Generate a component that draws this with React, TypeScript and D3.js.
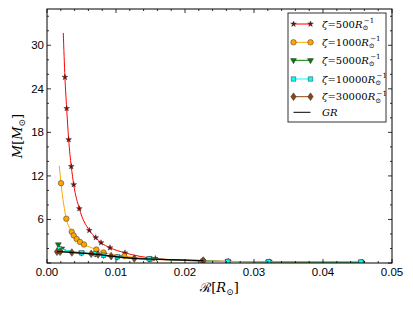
import * as d3 from 'd3';

// ζ = 500 (red stars); first entry is the curve top without a marker
const redR = [0.00236, 0.0026, 0.00285, 0.00314, 0.00352, 0.00387, 0.00468, 0.00613, 0.00706, 0.00783, 0.00913, 0.0113, 0.0157, 0.0226, 0.0263, 0.0323, 0.0457];
const redM = [31.7, 25.6, 21.3, 17.0, 13.3, 10.8, 7.5, 4.5, 3.5, 2.8, 2.1, 1.4, 0.62, 0.3, 0.22, 0.15, 0.08];

// ζ = 1000 (orange circles); first entry is the curve top
const orangeR = [0.00178, 0.00203, 0.0028, 0.00358, 0.00387, 0.0043, 0.00478, 0.00536, 0.00715, 0.0082, 0.0112, 0.015, 0.0226, 0.0262, 0.0322, 0.0456];
const orangeM = [13.4, 11.0, 6.1, 4.3, 3.8, 3.3, 2.9, 2.55, 1.86, 1.45, 0.95, 0.55, 0.3, 0.2, 0.15, 0.1];

// ζ = 5000 (green triangles)
const greenR = [0.00164, 0.00213, 0.005, 0.007, 0.0082, 0.0102, 0.0148, 0.0262, 0.0321, 0.0455];
const greenM = [2.55, 1.96, 1.4, 1.27, 1.08, 0.85, 0.58, 0.2, 0.17, 0.12];

// ζ = 10000 (cyan squares)
const cyanR = [0.00178, 0.005, 0.007, 0.0082, 0.0102, 0.0148, 0.0262, 0.0321, 0.0455];
const cyanM = [1.96, 1.4, 1.27, 1.08, 0.85, 0.58, 0.2, 0.17, 0.15];

// ζ = 30000 (brown diamonds)
const brownR = [0.00145, 0.0019, 0.0036, 0.0064, 0.0074, 0.0093, 0.01265, 0.02265];
const brownM = [1.55, 1.55, 1.45, 1.27, 1.17, 0.94, 0.62, 0.34];

// GR (black line)
const grR = [0.00145, 0.0019, 0.0036, 0.0064, 0.0074, 0.0093, 0.01265, 0.0148, 0.02265];
const grM = [1.55, 1.55, 1.45, 1.27, 1.17, 0.94, 0.62, 0.55, 0.32];

const xTicks = [0, 0.01, 0.02, 0.03, 0.04, 0.05];
const yTicks = [6, 12, 18, 24, 30];
const zetaLabels = ['500', '1000', '5000', '10000', '30000'];

const W = 413;
const H = 310;
const margin = { top: 9, right: 21, bottom: 47, left: 47 };

type Series = {
  xs: number[];
  ys: number[];
  color: string;
  fill: string;
  marker: string;
  skipFirst: boolean;
};

const series: Series[] = [
  { xs: redR, ys: redM, color: '#ff0000', fill: '#8b0000', marker: 'star', skipFirst: true },
  { xs: orangeR, ys: orangeM, color: '#ffa500', fill: '#ffa500', marker: 'circle', skipFirst: true },
  { xs: greenR, ys: greenM, color: '#008000', fill: '#008000', marker: 'tri', skipFirst: false },
  { xs: cyanR, ys: cyanM, color: '#00ffff', fill: '#00ffff', marker: 'square', skipFirst: false },
  { xs: brownR, ys: brownM, color: '#8b4513', fill: '#8b4513', marker: 'diamond', skipFirst: false },
];

const symbols: Record<string, d3.SymbolType> = {
  star: d3.symbolStar,
  circle: d3.symbolCircle,
  tri: d3.symbolTriangle,
  square: d3.symbolSquare,
  diamond: d3.symbolDiamond,
};
const sizes: Record<string, number> = { star: 10, circle: 24, tri: 15, square: 20, diamond: 17 };

const Marker = ({ kind, x, y, fill }: { kind: string; x: number; y: number; fill: string }) => {
  const path = d3.symbol(symbols[kind], sizes[kind])() as string;
  let t = `translate(${x},${y})`;
  if (kind === 'tri') t += ' rotate(180)';
  if (kind === 'diamond') t += ' scale(1.2,1)';
  return <path d={path} transform={t} fill={fill} stroke="#333" strokeWidth={0.5} />;
};

export default function App() {
  const iw = W - margin.left - margin.right;
  const ih = H - margin.top - margin.bottom;
  const x = d3.scaleLinear().domain([0, 0.05]).range([margin.left, margin.left + iw]);
  const y = d3.scaleLinear().domain([0, 35]).range([margin.top + ih, margin.top]);

  const line = d3
    .line<[number, number]>()
    .x((d) => x(d[0]))
    .y((d) => y(d[1]))
    .curve(d3.curveMonotoneX);

  const pts = (xs: number[], ys: number[]) => xs.map((v, i) => [v, ys[i]] as [number, number]);

  const xMinor = d3.range(0, 0.0501, 0.002);
  const yMinor = d3.range(0, 35.01, 2);
  const left = margin.left;
  const right = margin.left + iw;
  const top = margin.top;
  const bottom = margin.top + ih;

  const legX = 288;
  const legY = 13;
  const rowY = [24, 42.3, 60.3, 79, 96.7, 112.3];

  return (
    <svg width={W} height={H} style={{ position: 'absolute', left: 0, top: 0 }}>
      <rect width={W} height={H} fill="#fff" />
      <defs>
        <clipPath id="plot">
          <rect x={left} y={top} width={iw} height={ih} />
        </clipPath>
      </defs>

      <g clipPath="url(#plot)">
        {series.map((s, k) => (
          <g key={k}>
            <path d={line(pts(s.xs, s.ys)) as string} fill="none" stroke={s.color} strokeWidth={1} />
            {s.xs.map((v, i) =>
              s.skipFirst && i === 0 ? null : (
                <Marker key={i} kind={s.marker} x={x(v)} y={y(s.ys[i])} fill={s.fill} />
              )
            )}
          </g>
        ))}
        <path d={line(pts(grR, grM)) as string} fill="none" stroke="#000" strokeWidth={1.2} />
      </g>

      {/* ticks */}
      <g stroke="#000" strokeWidth={0.8}>
        {xMinor.map((v, i) => {
          const major = i % 5 === 0;
          const len = major ? 4 : 2;
          return (
            <g key={'xm' + i}>
              <line x1={x(v)} x2={x(v)} y1={bottom} y2={bottom - len} />
              <line x1={x(v)} x2={x(v)} y1={top} y2={top + len} />
            </g>
          );
        })}
        {yMinor.map((v, i) => {
          const major = i % 3 === 0;
          const len = major ? 4 : 2;
          return (
            <g key={'ym' + i}>
              <line x1={left} x2={left + len} y1={y(v)} y2={y(v)} />
              <line x1={right} x2={right - len} y1={y(v)} y2={y(v)} />
            </g>
          );
        })}
      </g>

      <rect x={left} y={top} width={iw} height={ih} fill="none" stroke="#000" strokeWidth={1} />

      <g fontFamily="'Liberation Sans', Arial, sans-serif" fontSize={11.5} fill="#000">
        {xTicks.map((v) => (
          <text key={v} x={x(v)} y={bottom + 13} textAnchor="middle">
            {v.toFixed(2)}
          </text>
        ))}
        {yTicks.map((v) => (
          <text key={v} x={left - 3} y={y(v) + 4} textAnchor="end">
            {v}
          </text>
        ))}
      </g>

      {/* axis labels */}
      <text
        transform={`translate(22,${(top + bottom) / 2}) rotate(-90)`}
        textAnchor="middle"
        fontFamily="'DejaVu Serif', serif"
        fontSize={13}
        fill="#000"
      >
        <tspan fontStyle="italic">M</tspan>[<tspan fontStyle="italic">M</tspan>
        <tspan fontSize={9} dy={3}>⊙</tspan>
        <tspan dy={-3}>]</tspan>
      </text>
      <text
        x={(left + right) / 2}
        y={292}
        textAnchor="middle"
        fontFamily="'DejaVu Serif', serif"
        fontSize={13}
        fill="#000"
      >
        ℛ[<tspan fontStyle="italic">R</tspan>
        <tspan fontSize={9} dy={3}>⊙</tspan>
        <tspan dy={-3}>]</tspan>
      </text>

      {/* legend */}
      <rect x={legX} y={legY} width={98} height={109} fill="#fff" stroke="#333" strokeWidth={1} />
      {series.map((s, k) => (
        <g key={'lg' + k}>
          <line x1={293.5} x2={310.5} y1={rowY[k]} y2={rowY[k]} stroke={s.color} strokeWidth={1} />
          <Marker kind={s.marker} x={293.5} y={rowY[k]} fill={s.fill} />
          <Marker kind={s.marker} x={310.5} y={rowY[k]} fill={s.fill} />
          <text x={322} y={rowY[k] + 3.5} fontFamily="'DejaVu Serif', serif" fontSize={10} fill="#000">
            <tspan fontStyle="italic">ζ</tspan>={zetaLabels[k]}
            <tspan fontStyle="italic">R</tspan>
            <tspan fontSize={7} dy={2.5}>⊙</tspan>
            <tspan fontSize={7} dx={-4.5} dy={-7}>−1</tspan>
          </text>
        </g>
      ))}
      <line x1={293.5} x2={310.5} y1={rowY[5]} y2={rowY[5]} stroke="#000" strokeWidth={1} />
      <text x={322} y={rowY[5] + 3.5} fontFamily="'DejaVu Serif', serif" fontSize={10} fontStyle="italic" fill="#000">
        GR
      </text>
    </svg>
  );
}
